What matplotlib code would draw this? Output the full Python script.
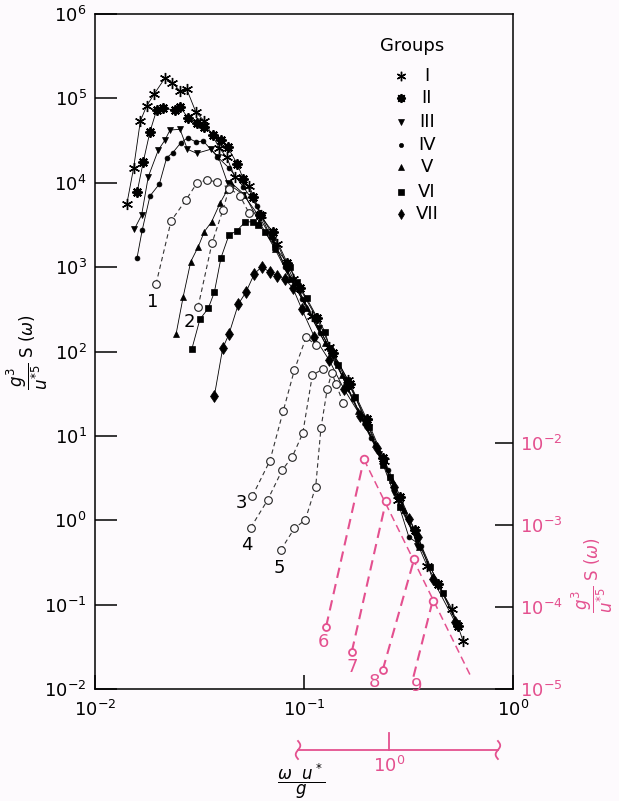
import numpy as np
import matplotlib
matplotlib.use('Agg')
import matplotlib.pyplot as plt
import matplotlib.transforms as mtransforms

plt.rcParams['font.family'] = ['DejaVu Sans']
plt.rcParams['mathtext.fontset'] = 'dejavusans'

PINK = '#e4508f'
BG = '#fdfafd'

# values are log10 of the coordinates
# groups I..VII (solid lines, filled symbols)
g1_lx = [-1.848, -1.815, -1.783, -1.753, -1.716, -1.664, -1.630, -1.593, -1.561, -1.517, -1.477, -1.405, -1.370,
         -1.330, -1.262, -1.205, -1.128, -1.052, -0.962, -0.878, -0.790, -0.700, -0.618, -0.548, -0.411, -0.292, -0.239]
g1_ly = [3.745, 4.178, 4.732, 4.910, 5.055, 5.245, 5.186, 5.087, 5.108, 4.835, 4.732, 4.412, 4.302,
         4.065, 3.96, 3.62, 3.28, 2.86, 2.42, 2.05, 1.66, 1.17, 0.70, 0.24, -0.54, -1.05, -1.43]

g2_lx = [-1.798, -1.769, -1.737, -1.705, -1.673, -1.617, -1.593, -1.554, -1.513, -1.478, -1.434, -1.399, -1.365,
         -1.319, -1.290, -1.243, -1.211, -1.150, -1.080, -1.020, -0.940, -0.860, -0.780, -0.700, -0.620, -0.540,
         -0.470, -0.360, -0.262]
g2_ly = [3.894, 4.249, 4.605, 4.862, 4.882, 4.862, 4.901, 4.764, 4.712, 4.664, 4.566, 4.507, 4.420,
         4.222, 4.041, 3.835, 3.618, 3.42, 3.05, 2.75, 2.40, 1.98, 1.62, 1.20, 0.74, 0.28,
         -0.12, -0.75, -1.25]

g3_lx = [-1.812, -1.777, -1.745, -1.697, -1.665, -1.641, -1.593, -1.558, -1.513, -1.446, -1.410, -1.365,
         -1.29, -1.22, -1.15, -1.08, -1.00, -0.93, -0.86, -0.79, -0.71, -0.64, -0.57, -0.478, -0.461]
g3_ly = [3.448, 3.618, 4.072, 4.388, 4.507, 4.625, 4.633, 4.397, 4.349, 4.397, 4.309, 3.993,
         3.86, 3.62, 3.32, 2.96, 2.60, 2.28, 1.96, 1.55, 1.12, 0.78, 0.32, -0.12, -0.31]

g4_lx = [-1.799, -1.774, -1.737, -1.692, -1.657, -1.628, -1.589, -1.556, -1.517, -1.482, -1.415, -1.357,
         -1.290, -1.225, -1.160, -1.090, -1.010, -0.925, -0.845, -0.765, -0.680, -0.600, -0.498, -0.440]
g4_ly = [3.108, 3.440, 3.843, 3.985, 4.297, 4.356, 4.475, 4.534, 4.483, 4.495, 4.309, 4.171,
         3.95, 3.72, 3.36, 3.00, 2.62, 2.22, 1.86, 1.44, 0.98, 0.60, -0.20, -0.30]

g5_lx = [-1.612, -1.578, -1.542, -1.506, -1.477, -1.442, -1.402, -1.367, -1.349, -1.285, -1.215, -1.140,
         -1.065, -0.985, -0.900, -0.820, -0.740, -0.660, -0.580, -0.520, -0.452]
g5_ly = [2.207, 2.649, 3.064, 3.242, 3.420, 3.538, 3.756, 3.914, 4.001, 3.86, 3.54, 3.22,
         2.86, 2.52, 2.10, 1.72, 1.30, 0.90, 0.48, 0.12, -0.32]

g6_lx = [-1.537, -1.498, -1.458, -1.429, -1.397, -1.359, -1.322, -1.282, -1.245, -1.219, -1.187, -1.139,
         -1.067, -1.035, -0.987, -0.900, -0.876, -0.836, -0.796, -0.756, -0.690, -0.621, -0.589, -0.541,
         -0.397, -0.333, -0.269]
g6_ly = [2.026, 2.382, 2.512, 2.702, 3.112, 3.381, 3.428, 3.535, 3.538, 3.499, 3.420, 3.242,
         3.005, 2.827, 2.630, 2.235, 2.038, 1.840, 1.662, 1.464, 1.10, 0.655, 0.516, 0.161,
         -0.551, -0.866, -1.221]

g7_lx = [-1.429, -1.389, -1.359, -1.314, -1.278, -1.238, -1.202, -1.163, -1.128, -1.091, -1.054,
         -1.010, -0.950, -0.880, -0.810, -0.730, -0.650, -0.570, -0.500, -0.453, -0.385, -0.278]
g7_ly = [1.473, 2.038, 2.207, 2.563, 2.702, 2.919, 3.005, 2.939, 2.898, 2.856, 2.756,
         2.50, 2.17, 1.90, 1.56, 1.24, 0.86, 0.40, 0.02, -0.195, -0.696, -1.202]

group_names = ['I', 'II', 'III', 'IV', 'V', 'VI', 'VII']

# curves 1..5 (dashed, open circles)
c1_lx = [-1.708, -1.636, -1.565, -1.512, -1.464, -1.416, -1.359, -1.306, -1.263]
c1_ly = [2.800, 3.547, 3.796, 3.997, 4.033, 4.009, 3.938, 3.843, 3.641]
c2_lx = [-1.507, -1.440, -1.388, -1.359]
c2_ly = [2.527, 3.286, 3.677, 3.926]
c3_lx = [-1.247, -1.163, -1.099, -1.046, -0.990, -0.943]
c3_ly = [0.287, 0.706, 1.298, 1.781, 2.168, 2.077]
c4_lx = [-1.255, -1.174, -1.104, -1.056, -1.006, -0.960, -0.908]
c4_ly = [-0.088, 0.240, 0.596, 0.753, 1.030, 1.721, 1.793]
c5_lx = [-1.111, -1.046, -0.994, -0.944, -0.919, -0.889, -0.867, -0.847, -0.812]
c5_ly = [-0.353, -0.095, 0.003, 0.398, 1.090, 1.552, 1.749, 1.615, 1.386]
curve_names = ['1', '2', '3', '4', '5']
curve_label_off = [(-3, -18), (-9, -15), (-11, -7), (-4, -17), (-1, -18)]

# curves 6..9 on the pink scales (log10 values)
p_bottom_lx = [-0.301, -0.178, -0.030, 0.117]
p_bottom_ly = [-4.240, -4.545, -4.768, -4.850]
p_peak_lx = [-0.120, -0.014, 0.120, 0.209]
p_peak_ly = [-2.199, -2.704, -3.418, -3.923]
p_bottom_marker = [True, True, True, False]
p_names = ['6', '7', '8', '9']
p_label_off = [(-3, -15), (0, -15), (-8, -12), (3, -9)]
p_line_lx = [-0.120, 0.396]
p_line_ly = [-2.199, -4.870]
bracket_x = [0.367, 3.32]

y_ticks = [-2, -1, 0, 1, 2, 3, 4, 5, 6]
x_ticks = [-2, -1, 0]
p_y_ticks = [-5, -4, -3, -2]

fig = plt.figure(figsize=(6.19, 8.01), dpi=100, facecolor=BG)
rect = [95 / 619, 1 - 689 / 801, 418 / 619, 675 / 801]
ax = fig.add_axes(rect)
ax.set_facecolor(BG)
ax.set_xscale('log')
ax.set_yscale('log')
ax.set_xlim(1e-2, 1e0)
ax.set_ylim(1e-2, 1e6)
for s in ax.spines.values():
    s.set_linewidth(1.1)

ax.set_yticks([10.0 ** k for k in y_ticks])
ax.set_yticklabels([r'$\mathregular{10^{%d}}$' % k for k in y_ticks])
ax.set_xticks([10.0 ** k for k in x_ticks])
ax.set_xticklabels([r'$\mathregular{10^{%d}}$' % k for k in x_ticks])
ax.minorticks_off()
ax.tick_params(axis='y', direction='in', length=16, width=1.1, labelsize=13, pad=6)
ax.tick_params(axis='x', direction='in', length=10, width=1.1, labelsize=13, pad=8)

markers = [((6, 2, 0), 8, 1.0), ('o', 5.5, 0.5), ('v', 5, 0.5), ('o', 3.5, 0.5),
           ('^', 5, 0.5), ('s', 5, 0.5), ('d', 6, 0.5)]
group_x = [g1_lx, g2_lx, g3_lx, g4_lx, g5_lx, g6_lx, g7_lx]
group_y = [g1_ly, g2_ly, g3_ly, g4_ly, g5_ly, g6_ly, g7_ly]
for k, (gx, gy, (m, ms, mew)) in enumerate(zip(group_x, group_y, markers)):
    xs = 10.0 ** np.array(gx)
    ys = 10.0 ** np.array(gy)
    ax.plot(xs, ys, color='black', lw=0.6, marker=m, ms=ms, mew=mew, mfc='black', mec='black')
    if k == 1:
        # group II symbol: filled blob with short spikes
        ax.plot(xs, ys, ls='none', marker=(8, 2, 0), ms=7.5, mew=1.3, mec='black')

curve_x = [c1_lx, c2_lx, c3_lx, c4_lx, c5_lx]
curve_y = [c1_ly, c2_ly, c3_ly, c4_ly, c5_ly]
for cx, cy, name, off in zip(curve_x, curve_y, curve_names, curve_label_off):
    xs = 10.0 ** np.array(cx)
    ys = 10.0 ** np.array(cy)
    ax.plot(xs, ys, color='#333333', lw=0.8, ls=(0, (4, 3)),
            marker='o', ms=5.5, mfc=BG, mec='#222222', mew=0.8)
    ax.annotate(name, xy=(xs[0], ys[0]), xytext=off, textcoords='offset pixels',
                ha='center', va='center', fontsize=13)

# legend
ax.text(0.758, 0.953, 'Groups', transform=ax.transAxes, ha='center', va='center', fontsize=13)
leg_y = [0.908, 0.876, 0.840, 0.806, 0.773, 0.736, 0.704]
for k, (name, (m, ms, mew), ly) in enumerate(zip(group_names, markers, leg_y)):
    ax.plot([0.732], [ly], transform=ax.transAxes, marker=m, ms=ms * 0.85, mew=mew,
            mfc='black', mec='black', ls='none')
    if k == 1:
        ax.plot([0.732], [ly], transform=ax.transAxes, marker=(8, 2, 0), ms=6.5, mew=1.2,
                mec='black', ls='none')
    ax.text(0.794, ly, name, transform=ax.transAxes, ha='center', va='center', fontsize=13)

# pink scales
ax2 = fig.add_axes(rect, frameon=False)
ax2.patch.set_visible(False)
ax2.set_xscale('log')
ax2.set_yscale('log')
ax2.set_xlim(10 ** -1.4067, 10 ** 0.5933)
ax2.set_ylim(1e-5, 10 ** 3.232)
ax2.xaxis.set_visible(False)
ax2.yaxis.tick_right()
ax2.set_yticks([10.0 ** k for k in p_y_ticks])
ax2.set_yticklabels([r'$\mathregular{10^{%d}}$' % k for k in p_y_ticks])
ax2.minorticks_off()
ax2.tick_params(axis='y', direction='in', length=13, width=1.1, color='black',
                labelcolor=PINK, labelsize=13, pad=5)

for i in range(len(p_names)):
    bx, by = 10.0 ** p_bottom_lx[i], 10.0 ** p_bottom_ly[i]
    px, py = 10.0 ** p_peak_lx[i], 10.0 ** p_peak_ly[i]
    ax2.plot([bx, px], [by, py], color=PINK, lw=1.5, ls=(0, (5, 3)))
    if p_bottom_marker[i]:
        ax2.plot([bx], [by], marker='o', ms=5, mfc=BG, mec=PINK, mew=1.3, ls='none')
    ax2.plot([px], [py], marker='o', ms=5.5, mfc=BG, mec=PINK, mew=1.3, ls='none')
    ax2.annotate(p_names[i], xy=(bx, by), xytext=p_label_off[i], textcoords='offset pixels',
                 ha='center', va='center', fontsize=13, color=PINK)
ax2.plot(10.0 ** np.array(p_line_lx), 10.0 ** np.array(p_line_ly), color=PINK, lw=1.1,
         ls=(0, (5, 3)), zorder=1)

# pink x scale bracket under the axes
btr = mtransforms.blended_transform_factory(ax2.transData, ax2.transAxes)
yb = -61 / 675
ax2.plot(bracket_x, [yb, yb], color=PINK, lw=1.3, transform=btr, clip_on=False)
ax2.plot([1.0, 1.0], [yb, yb + 17 / 675], color=PINK, lw=1.3, transform=btr, clip_on=False)
t = np.linspace(-1, 1, 25)
for bxv in bracket_x:
    cap_x = bxv * 10 ** (0.011 * np.sin(np.pi * t))
    cap_y = yb + t * 9 / 675
    ax2.plot(cap_x, cap_y, color=PINK, lw=1.3, transform=btr, clip_on=False)
ax2.text(1.0, yb - 16 / 675, r'$\mathregular{10^{0}}$', transform=btr, ha='center', va='center',
         fontsize=13, color=PINK)

# axis titles
fig.text(27 / 619, 1 - 352 / 801, r'$\dfrac{g^3}{u^{*5}}\ \mathregular{S}\ (\omega)$', rotation=90,
         ha='center', va='center', fontsize=12)
fig.text(592 / 619, 1 - 575 / 801, r'$\dfrac{g^3}{u^{*5}}\ \mathregular{S}\ (\omega)$', rotation=90,
         ha='center', va='center', fontsize=12, color=PINK)
fig.text(301 / 619, 1 - 781 / 801, r'$\dfrac{\omega\ \ u^*}{g}$', ha='center', va='center', fontsize=12)

fig.savefig('out.png', dpi=100, facecolor=BG)
